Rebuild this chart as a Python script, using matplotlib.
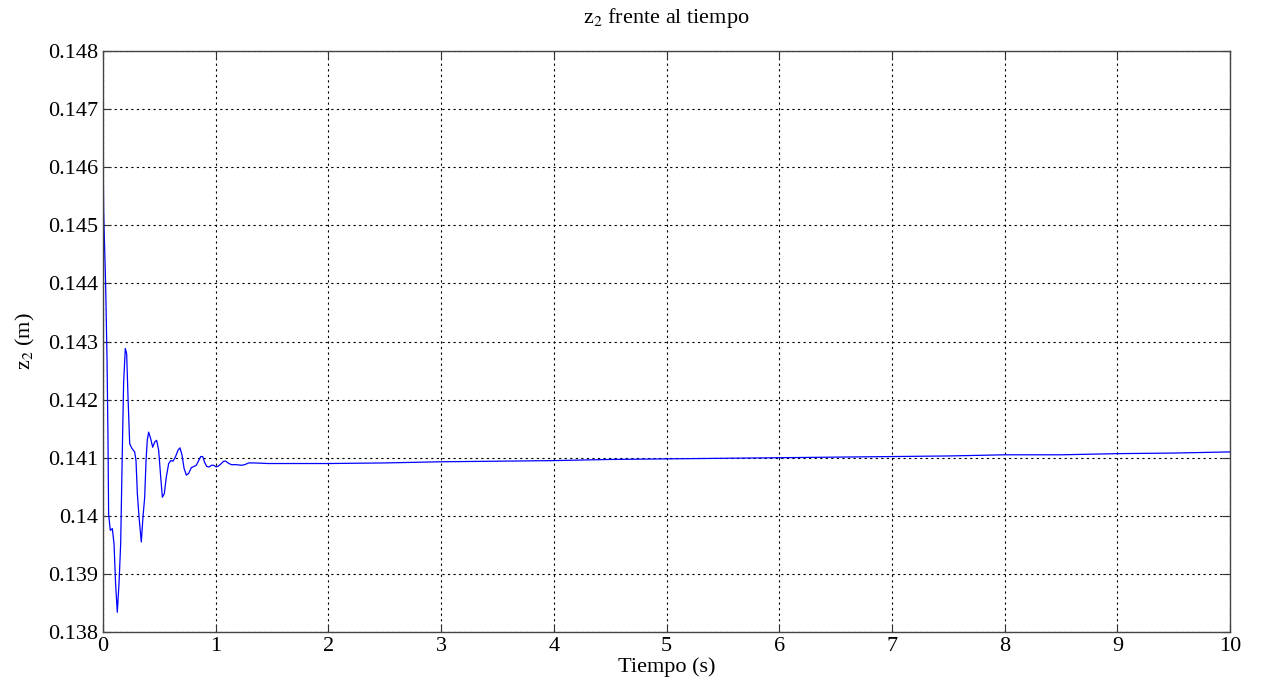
import matplotlib
matplotlib.use('Agg')
import matplotlib.pyplot as plt

plt.rcParams['font.family'] = 'Liberation Serif'
plt.rcParams['mathtext.fontset'] = 'stix'

# tiempo (s) y z2 (m)
t = [0.0, 0.006, 0.024, 0.036, 0.044, 0.050, 0.065, 0.083, 0.098, 0.112,
     0.127, 0.142, 0.157, 0.169, 0.183, 0.198, 0.210, 0.222, 0.237, 0.257,
     0.281, 0.293, 0.305, 0.320, 0.340, 0.355, 0.370, 0.382, 0.393, 0.405,
     0.423, 0.441, 0.459, 0.476, 0.494, 0.512, 0.527, 0.544, 0.562, 0.583,
     0.601, 0.621, 0.642, 0.666, 0.683, 0.701, 0.719, 0.740, 0.760, 0.784,
     0.808, 0.828, 0.849, 0.867, 0.885, 0.902, 0.920, 0.941, 0.962, 0.982,
     1.006, 1.027, 1.050, 1.071, 1.089, 1.109, 1.139, 1.183, 1.228, 1.257,
     1.293, 1.346, 1.464, 1.701, 2.0, 2.5, 3.0, 3.5, 4.0, 4.5, 5.0, 5.5,
     6.0, 6.5, 7.0, 7.5, 8.0, 8.5, 9.0, 9.5, 10.0]
z2 = [0.14643, 0.14524, 0.14394, 0.14268, 0.14141, 0.14003, 0.13975, 0.13978, 0.13952, 0.13883,
      0.13834, 0.13883, 0.13952, 0.14084, 0.14228, 0.14288, 0.14279, 0.14205, 0.14124, 0.14116,
      0.14110, 0.14095, 0.14038, 0.13998, 0.13955, 0.13998, 0.14032, 0.14095, 0.14130, 0.14144,
      0.14133, 0.14118, 0.14127, 0.14130, 0.14113, 0.14067, 0.14032, 0.14038, 0.14067, 0.14090,
      0.14095, 0.14094, 0.14101, 0.14113, 0.14117, 0.14105, 0.14082, 0.14070, 0.14073, 0.14083,
      0.14085, 0.14087, 0.14095, 0.14102, 0.14102, 0.14092, 0.14085, 0.14084, 0.14087, 0.14087,
      0.14084, 0.14086, 0.14090, 0.14094, 0.14094, 0.14091, 0.14088, 0.14088, 0.14087, 0.14088,
      0.14091, 0.14091, 0.14090, 0.14090, 0.14090, 0.14091, 0.14093, 0.14094, 0.14095, 0.14097,
      0.14098, 0.14099, 0.14100, 0.14101, 0.14102, 0.14103, 0.14105, 0.14105, 0.14107, 0.14108,
      0.14110]

xticks = list(range(0, 11))
yticks = [0.138, 0.139, 0.140, 0.141, 0.142, 0.143, 0.144, 0.145, 0.146, 0.147, 0.148]
ytick_labels = ['0.138', '0.139', '0.14', '0.141', '0.142', '0.143',
                '0.144', '0.145', '0.146', '0.147', '0.148']

fig = plt.figure(figsize=(12.62, 6.89), dpi=100)
ax = fig.add_axes([0.0816, 0.0827, 0.8931, 0.8433])

ax.plot(t, z2, color='#0000ff', linewidth=0.9)

ax.set_xlim(0, 10)
ax.set_ylim(0.138, 0.148)
ax.set_xticks(xticks)
ax.set_xticklabels([str(v) for v in xticks])
ax.set_yticks(yticks)
ax.set_yticklabels(ytick_labels)
ax.tick_params(direction='in', top=True, right=True, length=6,
               labelsize=16, width=0.8, colors='#333333', labelcolor='black')
ax.grid(True, linestyle=(0, (2, 3)), color='black', linewidth=0.8)
for s in ax.spines.values():
    s.set_color('#444444')
    s.set_linewidth(1.0)

ax.set_title(r'z$_2$ frente al tiempo', fontsize=16, pad=20)
ax.set_xlabel('Tiempo (s)', fontsize=16, labelpad=1)
ax.set_ylabel(r'z$_2$ (m)', fontsize=16, labelpad=8)

plt.savefig('out.png', dpi=100)
plt.close()
